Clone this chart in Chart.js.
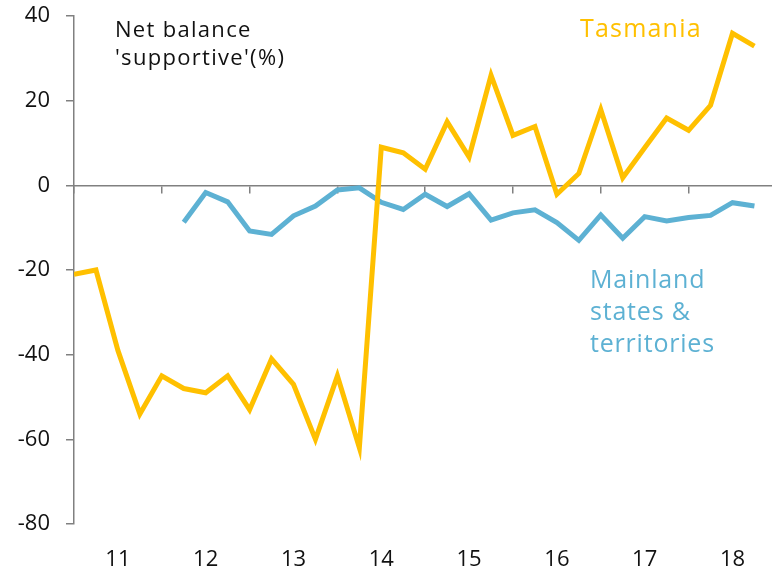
<!DOCTYPE html>
<html>
<head>
<meta charset="utf-8">
<script src="https://cdn.jsdelivr.net/npm/chart.js@4"></script>
<style>
  html, body { margin: 0; padding: 0; background: #fff; }
  #wrap { width: 772px; height: 573px; position: relative; }
</style>
</head>
<body>
<div id="wrap"><canvas id="balanceChart"></canvas></div>
<script>
/* ========================================
   DATA (quarterly, index 0 = start of 2011)
======================================== */
const tasmania = [
  -21, -20, -39, -54, -45, -48, -49, -45,
  -53, -41, -47, -60, -45, -62, 9, 7.7,
  3.8, 15, 6.7, 26, 11.8, 13.9, -2.1, 2.8,
  17.9, 1.8, 8.9, 15.9, 13, 18.9, 35.9, 32.9
];

const mainland = [
  null, null, null, null, null, -8.7, -1.7, -3.9,
  -10.8, -11.6, -7.2, -4.9, -1.1, -0.6, -4, -5.7,
  -2.1, -5, -2, -8.2, -6.5, -5.8, -8.8, -13,
  -7, -12.5, -7.4, -8.4, -7.6, -7.1, -4.1, -4.9
];

const yearLabels = ["11", "12", "13", "14", "15", "16", "17", "18"];
const yTicks = [-80, -60, -40, -20, 0, 20, 40];

const YELLOW = "#FFC000";
const BLUE = "#5DB1D3";
const AXIS_GREY = "#808080";
const FONT = "'Open Sans', sans-serif";

function toPoints(arr) {
  return arr.map((v, i) => ({ x: i, y: v }));
}

/* ========================================
   TEXT ANNOTATIONS
======================================== */
const annotations = {
  id: "annotations",
  afterDraw(chart) {
    const ctx = chart.ctx;
    ctx.save();
    ctx.textAlign = "left";
    ctx.textBaseline = "alphabetic";

    ctx.fillStyle = "#111";
    ctx.font = `22px ${FONT}`;
    ctx.letterSpacing = "1.3px";
    ctx.fillText("Net balance", 115, 37);
    ctx.fillText("'supportive'(%)", 115, 65);

    ctx.fillStyle = YELLOW;
    ctx.font = `25px ${FONT}`;
    ctx.letterSpacing = "1.2px";
    ctx.fillText("Tasmania", 580, 37);

    ctx.fillStyle = BLUE;
    ctx.letterSpacing = "0.8px";
    ctx.fillText("Mainland", 590, 288);
    ctx.fillText("states &", 590, 320);
    ctx.fillText("territories", 590, 352);
    ctx.restore();
  }
};

/* ========================================
   CHART
======================================== */
new Chart(document.getElementById("balanceChart"), {
  type: "line",
  data: {
    datasets: [
      {
        label: "Tasmania",
        data: toPoints(tasmania),
        borderColor: YELLOW,
        borderWidth: 5,
        pointRadius: 0,
        tension: 0,
        xAxisID: "x",
        yAxisID: "y"
      },
      {
        label: "Mainland states & territories",
        data: toPoints(mainland),
        borderColor: BLUE,
        borderWidth: 5,
        pointRadius: 0,
        tension: 0,
        spanGaps: false,
        xAxisID: "x",
        yAxisID: "y"
      }
    ]
  },
  options: {
    responsive: true,
    maintainAspectRatio: false,
    animation: false,
    layout: { padding: { top: 16, right: 0, bottom: 0, left: 0 } },
    plugins: {
      legend: { display: false },
      tooltip: { enabled: false }
    },
    scales: {
      x: {
        type: "linear",
        position: "bottom",
        min: 0,
        max: 31.8,
        grid: { display: false },
        border: { display: false },
        afterBuildTicks: scale => {
          scale.ticks = yearLabels.map((_, k) => ({ value: 2 + 4 * k }));
        },
        afterFit: scale => { scale.height = 49; },
        ticks: {
          padding: 15,
          maxRotation: 0,
          autoSkip: false,
          color: "#111",
          font: { family: FONT, size: 22 },
          callback: value => yearLabels[(value - 2) / 4] ?? ""
        }
      },
      xZero: {
        type: "linear",
        position: { y: 0 },
        min: 0,
        max: 31.8,
        grid: {
          drawOnChartArea: false,
          drawTicks: true,
          tickLength: 7,
          color: AXIS_GREY,
          lineWidth: 1.5
        },
        border: { color: AXIS_GREY, width: 1.5 },
        afterBuildTicks: scale => {
          scale.ticks = yearLabels.map((_, k) => ({ value: 4 * k }));
        },
        ticks: {
          autoSkip: false,
          font: { size: 1 },
          callback: () => ""
        }
      },
      y: {
        position: "left",
        min: -80,
        max: 40,
        afterBuildTicks: scale => {
          scale.ticks = yTicks.map(v => ({ value: v }));
        },
        afterFit: scale => {
          scale.width = 74;
          scale.paddingTop = 2;
          scale.paddingBottom = 2;
        },
        grid: {
          drawOnChartArea: false,
          drawTicks: true,
          tickLength: 8,
          color: AXIS_GREY,
          lineWidth: 1.5
        },
        border: { color: AXIS_GREY, width: 1.5 },
        ticks: {
          padding: 16,
          color: "#111",
          font: { family: FONT, size: 22 }
        }
      }
    }
  },
  plugins: [annotations]
});
</script>
</body>
</html>
